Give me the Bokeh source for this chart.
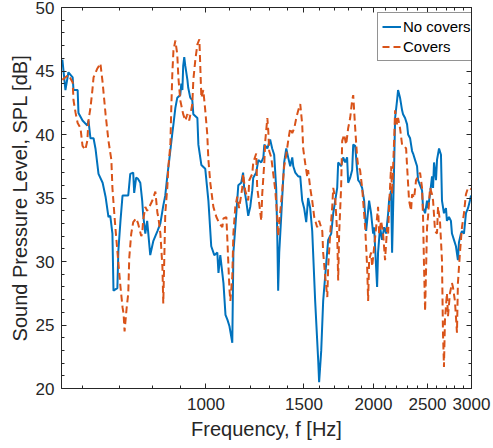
from bokeh.plotting import figure
from bokeh.models import (Range1d, FixedTicker, LogAxis, LinearAxis, PrintfTickFormatter,
                          CustomLabelingPolicy)
from bokeh.embed import file_html
from bokeh.resources import INLINE

# ---- data ----
freq_no_covers = [552, 559, 566, 576, 578, 588, 590, 600, 612, 615, 620, 628, 633, 641, 652, 660, 668, 673, 679, 682,
                  693, 696, 702, 708, 717, 725, 731, 740, 743, 749, 755, 762, 768, 771, 778, 784, 794, 804, 818, 828,
                  838, 845, 852, 859, 870, 874, 881, 888, 899, 903, 907, 910, 914, 918, 926, 929, 937, 945, 949, 965,
                  969, 981, 997, 1010, 1022, 1035, 1048, 1053, 1061, 1075, 1084, 1093, 1102, 1111, 1115, 1120, 1129,
                  1138, 1143, 1157, 1166, 1171, 1181, 1191, 1201, 1211, 1216, 1231, 1242, 1257, 1268, 1273, 1289,
                  1304, 1315, 1326, 1337, 1343, 1348, 1354, 1365, 1376, 1382, 1394, 1405, 1417, 1429, 1435, 1447,
                  1465, 1477, 1489, 1501, 1514, 1526, 1539, 1552, 1571, 1591, 1597, 1611, 1624, 1645, 1658, 1679,
                  1693, 1707, 1721, 1728, 1749, 1764, 1779, 1793, 1801, 1816, 1831, 1839, 1854, 1869, 1877, 1892,
                  1908, 1924, 1940, 1956, 1964, 1980, 1997, 2005, 2030, 2038, 2055, 2072, 2090, 2107, 2125, 2133,
                  2151, 2160, 2178, 2187, 2205, 2214, 2232, 2251, 2260, 2279, 2298, 2308, 2327, 2346, 2356, 2375,
                  2395, 2405, 2425, 2445, 2455, 2476, 2496, 2506, 2527, 2548, 2559, 2569, 2590, 2601, 2623, 2644,
                  2655, 2677, 2699, 2710, 2733, 2755, 2767, 2790, 2813, 2836, 2848, 2872, 2884, 2908, 2932, 2957,
                  2981, 2994]
spl_no_covers = [45.9, 43.5, 44.9, 44.5, 43.5, 43.5, 41.7, 41.1, 40.7, 41.1, 39.7, 39.7, 38.9, 36.9, 36.2, 35.1, 33.5,
                 33.6, 32.2, 27.7, 27.9, 30.9, 33.2, 35.2, 35.2, 35.2, 36.9, 37.0, 35.4, 36.6, 36.5, 36.2, 34.8, 33.7,
                 32.2, 33.2, 30.5, 31.6, 32.4, 33.0, 34.4, 35.2, 36.7, 38.0, 40.1, 40.8, 42.1, 42.9, 43.1, 44.0, 43.5,
                 45.4, 46.1, 45.4, 44.3, 43.7, 42.9, 42.7, 41.6, 41.3, 39.2, 37.6, 37.3, 34.8, 31.2, 30.5, 30.7, 29.1,
                 30.5, 28.3, 25.8, 25.4, 24.9, 24.0, 23.6, 30.7, 32.7, 34.8, 36.0, 36.2, 37.0, 35.8, 34.8, 33.6, 34.3,
                 35.6, 36.6, 37.0, 38.0, 37.8, 38.2, 39.2, 38.9, 39.6, 38.9, 38.4, 35.8, 32.2, 27.7, 30.7, 33.5, 36.4,
                 37.8, 38.9, 38.2, 37.5, 38.2, 37.5, 37.0, 36.7, 36.7, 34.8, 34.2, 33.1, 35.0, 34.2, 32.4, 26.9, 22.2,
                 20.5, 23.0, 26.9, 29.9, 31.7, 32.2, 33.8, 34.8, 35.8, 37.8, 37.5, 38.2, 37.8, 38.2, 36.2, 36.6, 37.2,
                 39.2, 39.1, 37.2, 36.4, 36.2, 35.8, 34.8, 32.4, 34.0, 34.8, 33.8, 32.2, 32.7, 28.0, 30.7, 32.7, 31.7,
                 32.7, 32.2, 33.8, 34.8, 35.6, 30.7, 37.5, 41.3, 42.7, 43.5, 42.9, 41.9, 41.6, 41.3, 40.8, 40.0, 39.7,
                 38.7, 38.5, 38.0, 37.5, 36.4, 36.0, 35.6, 34.2, 33.8, 34.8, 34.2, 35.3, 36.7, 35.8, 37.8, 36.4, 38.0,
                 38.9, 38.4, 34.8, 33.8, 34.2, 33.2, 33.5, 33.2, 32.2, 31.7, 31.2, 30.1, 31.5, 32.2, 32.4, 32.2, 33.8,
                 34.2, 34.8, 35.2]

freq_covers = [552, 559, 566, 576, 578, 583, 588, 595, 600, 607, 612, 615, 620, 625, 628, 638, 646, 652, 660, 668,
               676, 679, 685, 690, 696, 702, 708, 711, 714, 720, 725, 728, 734, 740, 749, 755, 765, 768, 771, 778,
               784, 791, 801, 811, 818, 821, 828, 835, 838, 842, 845, 852, 856, 863, 866, 870, 874, 881, 888, 892,
               899, 910, 918, 926, 933, 945, 949, 957, 965, 973, 981, 989, 997, 1005, 1010, 1018, 1031, 1044, 1057,
               1070, 1075, 1088, 1093, 1097, 1102, 1106, 1115, 1120, 1129, 1138, 1147, 1162, 1166, 1176, 1191, 1196,
               1211, 1216, 1231, 1236, 1247, 1257, 1262, 1273, 1278, 1289, 1294, 1299, 1310, 1321, 1332, 1343, 1348,
               1359, 1371, 1382, 1394, 1405, 1417, 1429, 1441, 1453, 1465, 1477, 1489, 1495, 1508, 1520, 1526, 1539,
               1552, 1565, 1584, 1597, 1618, 1624, 1638, 1652, 1658, 1672, 1686, 1693, 1707, 1721, 1728, 1735, 1749,
               1757, 1771, 1786, 1801, 1816, 1831, 1839, 1854, 1869, 1877, 1892, 1908, 1916, 1932, 1948, 1956, 1964,
               1980, 1989, 2005, 2022, 2038, 2047, 2064, 2081, 2098, 2116, 2125, 2133, 2151, 2160, 2178, 2187, 2205,
               2214, 2232, 2251, 2260, 2289, 2298, 2317, 2336, 2346, 2366, 2385, 2405, 2425, 2445, 2455, 2465, 2476,
               2496, 2506, 2527, 2548, 2559, 2580, 2601, 2612, 2633, 2655, 2666, 2677, 2688, 2710, 2722, 2744, 2767,
               2778, 2801, 2825, 2836, 2860, 2884, 2908, 2932, 2957, 2994]
spl_covers = [44.3, 44.5, 44.7, 44.1, 42.7, 41.7, 40.9, 40.5, 39.1, 38.8, 39.5, 41.1, 42.1, 43.5, 44.5, 45.2, 45.6,
              44.1, 41.6, 39.5, 38.0, 35.8, 33.5, 31.8, 29.9, 28.0, 26.4, 25.9, 24.5, 26.3, 27.5, 30.3, 32.2, 33.1,
              33.4, 33.0, 32.0, 32.2, 33.2, 34.3, 34.0, 34.3, 34.8, 35.5, 33.8, 33.5, 32.2, 29.6, 26.7, 30.7, 33.8,
              35.8, 37.5, 39.2, 41.9, 44.8, 46.6, 47.4, 46.3, 44.5, 42.7, 41.6, 41.1, 41.6, 41.1, 42.4, 44.3, 45.9,
              47.1, 47.5, 42.9, 43.5, 41.9, 40.1, 38.0, 36.2, 34.3, 33.5, 33.0, 32.7, 33.4, 33.5, 31.5, 29.8, 27.8,
              26.9, 28.8, 32.2, 34.3, 35.1, 34.2, 35.8, 36.9, 35.6, 34.8, 36.4, 36.9, 37.8, 38.5, 35.8, 34.5, 33.2,
              35.3, 37.8, 39.5, 41.3, 40.3, 38.7, 38.2, 36.9, 35.6, 33.5, 32.0, 33.8, 35.6, 37.5, 38.4, 39.5, 40.5,
              40.1, 40.5, 41.3, 41.9, 42.4, 40.8, 38.9, 37.7, 36.7, 37.2, 35.8, 34.8, 33.5, 32.7, 33.2, 32.4, 30.7,
              28.8, 27.2, 29.6, 32.2, 34.3, 35.8, 35.0, 32.2, 28.5, 32.2, 35.8, 39.5, 40.0, 39.2, 40.5, 41.3, 42.7,
              43.1, 40.5, 38.2, 37.5, 37.2, 35.8, 34.8, 32.7, 29.6, 26.9, 30.1, 30.7, 29.6, 31.1, 32.7, 34.3, 32.2,
              33.2, 32.2, 30.1, 32.7, 32.2, 34.3, 37.5, 35.3, 39.5, 41.9, 40.8, 41.3, 40.5, 39.2, 39.2, 38.9, 37.5,
              34.8, 34.0, 35.3, 35.0, 36.4, 36.7, 37.0, 35.8, 33.5, 29.6, 26.1, 32.7, 33.5, 35.8, 35.3, 34.8, 32.4,
              32.2, 34.3, 33.2, 30.1, 24.4, 21.7, 25.4, 27.5, 25.7, 27.5, 28.3, 28.0, 26.9, 24.4, 28.3, 30.7, 32.7,
              33.8, 35.3, 35.8, 35.7]

x_major_ticks = [1000, 1500, 2000, 2500, 3000]
x_minor_ticks = [600, 700, 800, 900, 1100, 1200, 1300, 1400, 1600, 1700, 1800, 1900,
                 2100, 2200, 2300, 2400, 2600, 2700, 2800, 2900]
y_major_ticks = [20, 25, 30, 35, 40, 45, 50]
y_minor_ticks = list(range(20, 51))

FONT = "Liberation Sans"
AX = "#262626"

p = figure(width=493, height=448, x_axis_type="log",
           x_range=Range1d(550, 3000), y_range=Range1d(20, 50),
           output_backend="svg", toolbar_location=None,
           min_border_left=61, min_border_right=22, min_border_top=7, min_border_bottom=60)
p.outline_line_color = None
p.xgrid.visible = False
p.ygrid.visible = False

p.line(freq_no_covers, spl_no_covers, line_color="#0072BD", line_width=2, legend_label="No covers")
p.line(freq_covers, spl_covers, line_color="#D95319", line_width=2, line_dash="7 4", legend_label="Covers")


def style(ax, labels=True):
    ax.axis_line_color = AX
    ax.axis_line_width = 1
    ax.major_tick_line_color = AX
    ax.minor_tick_line_color = AX
    ax.major_tick_in = 5
    ax.major_tick_out = 0
    ax.minor_tick_in = 3
    ax.minor_tick_out = 0
    ax.major_label_text_font = FONT
    ax.major_label_text_color = AX
    ax.axis_label_text_font = FONT
    ax.axis_label_text_color = AX
    ax.axis_label_text_font_style = "normal"
    if labels:
        ax.major_label_text_font_size = "17px"
        ax.axis_label_text_font_size = "20px"
    else:
        ax.major_label_text_font_size = "1px"
        ax.major_label_standoff = 0
        ax.major_label_policy = CustomLabelingPolicy(code="return new Set()")


xa = p.xaxis[0]
xa.ticker = FixedTicker(ticks=x_major_ticks, minor_ticks=x_minor_ticks)
xa.formatter = PrintfTickFormatter(format="%d")
xa.axis_label = "Frequency, f [Hz]"
style(xa)
xa.major_label_standoff = 9
xa.axis_label_standoff = 5

ya = p.yaxis[0]
ya.ticker = FixedTicker(ticks=y_major_ticks, minor_ticks=y_minor_ticks)
ya.axis_label = "Sound Pressure Level, SPL [dB]"
style(ya)
ya.major_label_standoff = 7
ya.axis_label_standoff = 2

top = LogAxis(ticker=FixedTicker(ticks=x_major_ticks, minor_ticks=x_minor_ticks))
style(top, labels=False)
p.add_layout(top, "above")
right = LinearAxis(ticker=FixedTicker(ticks=y_major_ticks, minor_ticks=y_minor_ticks))
style(right, labels=False)
p.add_layout(right, "right")

lg = p.legend[0]
lg.location = (316, 327)
lg.margin = 0
lg.padding = 4
lg.spacing = 1
lg.label_height = 19
lg.glyph_height = 19
lg.glyph_width = 19
lg.label_standoff = 2
lg.label_text_font = FONT
lg.label_text_font_size = "15px"
lg.label_text_color = "#000000"
lg.border_line_color = AX
lg.border_line_width = 1
lg.background_fill_color = "white"
lg.background_fill_alpha = 1

open("out.html", "w").write(file_html(p, INLINE))
